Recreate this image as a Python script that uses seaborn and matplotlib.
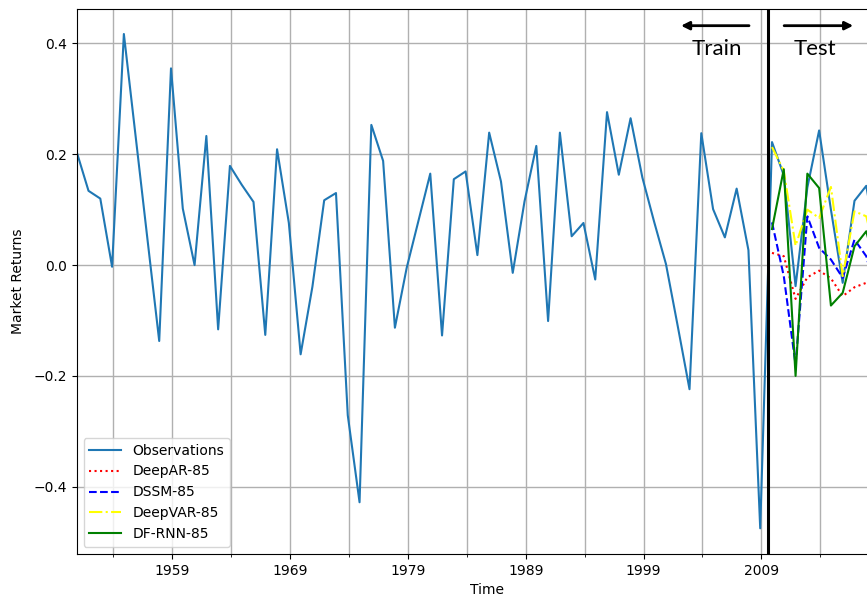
import numpy as np
import matplotlib
matplotlib.use("Agg")
import matplotlib.pyplot as plt
import seaborn as sns
from matplotlib.ticker import FixedLocator, FuncFormatter, MultipleLocator

# ---- data -------------------------------------------------------------
years = np.arange(1951, 2020)
observations = [
    0.204, 0.134, 0.120, -0.003, 0.417, 0.232, 0.047, -0.137, 0.355, 0.102,
    0.000, 0.233, -0.116, 0.179, 0.145, 0.114, -0.126, 0.209, 0.076, -0.161,
    -0.039, 0.117, 0.130, -0.271, -0.428, 0.253, 0.188, -0.113, -0.005, 0.080,
    0.165, -0.127, 0.155, 0.169, 0.018, 0.239, 0.151, -0.014, 0.115, 0.215,
    -0.101, 0.239, 0.052, 0.076, -0.026, 0.276, 0.163, 0.265, 0.158, 0.078,
    0.002, -0.110, -0.224, 0.238, 0.101, 0.050, 0.138, 0.027, -0.475, 0.222,
    0.162, -0.038, 0.140, 0.243, 0.100, -0.032, 0.116, 0.143, 0.020,
]

test_years = np.arange(2010, 2020)
deepar_85 = [0.022, 0.016, -0.061, -0.022, -0.010, -0.024, -0.056, -0.040, -0.032, -0.030]
dssm_85 = [0.077, -0.020, -0.180, 0.088, 0.031, 0.010, -0.023, 0.046, 0.016, -0.060]
deepvar_85 = [0.213, 0.170, 0.035, 0.100, 0.085, 0.141, -0.020, 0.097, 0.088, 0.000]
dfrnn_85 = [0.065, 0.173, -0.200, 0.165, 0.139, -0.073, -0.050, 0.034, 0.061, -0.020]

labeled_ticks = [1959, 1969, 1979, 1989, 1999, 2009]
minor_ticks = [1954, 1964, 1974, 1984, 1994, 2004, 2014]

# annual returns are stamped just before the turn of their year
t_obs = years - 0.1
t_test = test_years - 0.1
split_at = 2009.56

# ---- figure -----------------------------------------------------------
fig = plt.figure(figsize=(8.67, 5.96), dpi=100)
ax = fig.add_axes([0.0885, 0.0708, 0.946, 0.914])

sns.lineplot(x=t_obs, y=observations, ax=ax, color="#1f77b4", lw=1.5,
             label="Observations")
sns.lineplot(x=t_test, y=deepar_85, ax=ax, color="red", lw=1.5,
             linestyle=":", label="DeepAR-85")
sns.lineplot(x=t_test, y=dssm_85, ax=ax, color="blue", lw=1.5,
             linestyle="--", label="DSSM-85")
sns.lineplot(x=t_test, y=deepvar_85, ax=ax, color="yellow", lw=1.5,
             linestyle="-.", label="DeepVAR-85")
sns.lineplot(x=t_test, y=dfrnn_85, ax=ax, color="green", lw=1.5,
             linestyle="-", label="DF-RNN-85")

ax.set_xlim(1950.9, 2020.5)
ax.set_ylim(-0.521, 0.462)

ax.xaxis.set_major_locator(FixedLocator(labeled_ticks))
ax.xaxis.set_minor_locator(FixedLocator(minor_ticks))
ax.xaxis.set_major_formatter(FuncFormatter(lambda v, p: f"{int(round(v))}"))
ax.yaxis.set_major_locator(MultipleLocator(0.2))
ax.grid(True, which="both", color="#b0b0b0", lw=1.0)
ax.set_axisbelow(True)

ax.set_xlabel("Time", fontsize=10)
ax.set_ylabel("Market Returns", fontsize=10, labelpad=6)
ax.tick_params(labelsize=10)

# train / test split marker
ax.axvline(split_at, color="black", lw=2.2, zorder=5)
arrow_kw = dict(arrowstyle="-|>", color="black", lw=2.0, mutation_scale=12,
                shrinkA=0, shrinkB=0)
ax.annotate("", xy=(2002.18, 0.432), xytext=(2007.95, 0.432),
            arrowprops=arrow_kw, annotation_clip=False)
ax.annotate("", xy=(2016.79, 0.432), xytext=(2010.93, 0.432),
            arrowprops=arrow_kw, annotation_clip=False)
ax.text(2005.21, 0.379, "Train", ha="center", va="baseline",
        fontsize=16, family=["Lato", "DejaVu Sans"])
ax.text(2013.55, 0.379, "Test", ha="center", va="baseline",
        fontsize=16, family=["Lato", "DejaVu Sans"])

ax.legend(loc="lower left", fontsize=10, handlelength=2.3)

fig.savefig("out.png", dpi=100)
